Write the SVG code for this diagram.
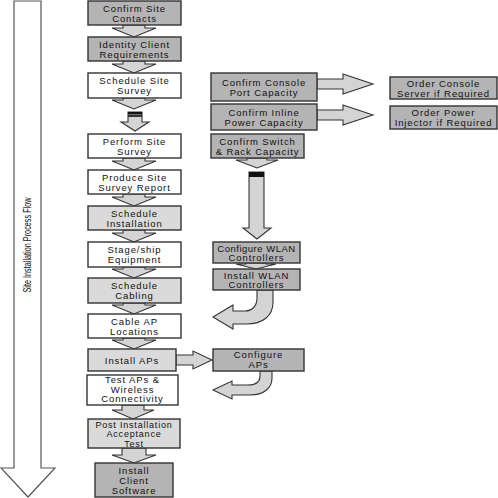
<svg xmlns="http://www.w3.org/2000/svg" width="498" height="498" viewBox="0 0 498 498">
<style>
.b{stroke:#333;stroke-width:1.4}
.dk{fill:#b4b4b4}
.lt{fill:#dadada}
.wh{fill:#ffffff}
.t{font-family:"Liberation Sans",Arial,sans-serif;font-size:9.5px;letter-spacing:0.9px;fill:#111;text-anchor:middle}
.s{font-size:9px;letter-spacing:0.8px}
.ar{fill:#d4d4d4;stroke:#333;stroke-width:1.1;stroke-linejoin:miter}
</style>
<rect width="498" height="498" fill="#ffffff"/>
<g id="flow-arrow">
<polygon points="14,1 41,1 41,468 55,468 28,497 1,468 14,468" fill="#ffffff" stroke="#555" stroke-width="1.2"/>
<text x="0" y="0" transform="translate(31,245) rotate(-90)" font-family="'Liberation Sans',Arial,sans-serif" font-size="10" text-anchor="middle" textLength="95" lengthAdjust="spacingAndGlyphs" fill="#111">Site Installation Process Flow</text>
</g>
<g id="connectors">
<polygon class="ar" points="123,25 123,28 112,28 134,37 156,28 145,28 145,25"/>
<polygon class="ar" points="123,61 123,64 112,64 134,73 156,64 145,64 145,61"/>
<polygon class="ar" points="123,98 123,100 112,100 134,109 156,100 145,100 145,98"/>
<polygon class="ar" points="128,112 142,112 142,122 149,122 135,131 121,122 128,122" fill="#e4e4e4"/>
<rect x="128" y="112" width="14" height="2.5" fill="#111"/>
<rect x="128" y="115" width="14" height="2" fill="#333"/>
<polygon class="ar" points="123,158 123,161 112,161 134,170 156,161 145,161 145,158"/>
<polygon class="ar" points="123,194 123,197 112,197 134,206 156,197 145,197 145,194"/>
<polygon class="ar" points="123,230 123,233 112,233 134,242 156,233 145,233 145,230"/>
<polygon class="ar" points="123,267 123,269 112,269 134,278 156,269 145,269 145,267"/>
<polygon class="ar" points="123,303 123,305 112,305 134,314 156,305 145,305 145,303"/>
<polygon class="ar" points="123,338 123,340 112,340 134,349 156,340 145,340 145,338"/>
<polygon class="ar" points="122,405 122,410 112,410 133,419 154,410 144,410 144,405"/>
<polygon class="ar" points="122,448 122,455 112,455 134,463 156,455 146,455 146,448"/>
<polygon class="ar" points="176,355 193,355 193,351 212,360 193,369 193,365 176,365"/>
<polygon class="ar" points="317,79 343,79 343,74 373,84 343,94 343,89 317,89"/>
<polygon class="ar" points="317,110 343,110 343,105 373,115 343,125 343,120 317,120"/>
<polygon class="ar" points="247,158 247,160 236,160 257,168 278,160 267,160 267,158"/>
<polygon class="ar" points="249,172 264,172 264,228 271,228 257,239 243,228 249,228"/>
<rect x="249" y="172" width="15" height="5" fill="#111"/>
<polygon class="ar" points="246,263 246,264 236,264 256,269 276,264 266,264 266,263"/>
<path class="ar" d="M257,290 L257,298 C257,306 252,311 245,311 L233,311 L233,305 L213,317 L233,329 L233,324 L246,324 C263,324 273,316 273,302 L273,290 Z"/>
<path class="ar" d="M260,371 L260,376 C260,382 256,385 248,385 L232,385 L232,381 L213,390 L232,399 L232,395 L250,395 C264,395 272,388 272,378 L272,371 Z"/>
</g>
<g id="n1"><rect class="b dk" x="88" y="1" width="93" height="24"/><text class="t" x="134.5" y="12">Confirm Site</text><text class="t" x="134.5" y="22">Contacts</text></g>
<g id="n2"><rect class="b dk" x="88" y="37" width="93" height="24"/><text class="t" x="134.5" y="48">Identity Client</text><text class="t" x="134.5" y="58">Requirements</text></g>
<g id="n3"><rect class="b wh" x="88" y="73" width="93" height="25"/><text class="t" x="134.5" y="84">Schedule Site</text><text class="t" x="134.5" y="94">Survey</text></g>
<g id="n4"><rect class="b wh" x="88" y="134" width="93" height="24"/><text class="t" x="134.5" y="145">Perform Site</text><text class="t" x="134.5" y="155">Survey</text></g>
<g id="n5"><rect class="b wh" x="88" y="170" width="93" height="24"/><text class="t" x="134.5" y="181">Produce Site</text><text class="t" x="134.5" y="191">Survey Report</text></g>
<g id="n6"><rect class="b lt" x="88" y="206" width="93" height="24"/><text class="t" x="134.5" y="217">Schedule</text><text class="t" x="134.5" y="227">Installation</text></g>
<g id="n7"><rect class="b wh" x="88" y="242" width="93" height="25"/><text class="t" x="134.5" y="253">Stage/ship</text><text class="t" x="134.5" y="263">Equipment</text></g>
<g id="n8"><rect class="b lt" x="88" y="278" width="93" height="25"/><text class="t" x="134.5" y="289">Schedule</text><text class="t" x="134.5" y="299">Cabling</text></g>
<g id="n9"><rect class="b wh" x="88" y="314" width="93" height="24"/><text class="t" x="134.5" y="325">Cable AP</text><text class="t" x="134.5" y="335">Locations</text></g>
<g id="n10"><rect class="b lt" x="88" y="349" width="88" height="22"/><text class="t" x="132" y="363.5">Install APs</text></g>
<g id="n11"><rect class="b wh" x="87" y="375" width="91" height="30"/><text class="t" x="132.5" y="383">Test APs &amp;</text><text class="t" x="132.5" y="392.5">Wireless</text><text class="t" x="132.5" y="402">Connectivity</text></g>
<g id="n12"><rect class="b lt" x="88" y="419" width="92" height="29"/><text class="t s" x="134" y="427.5">Post Installation</text><text class="t s" x="134" y="437">Acceptance</text><text class="t s" x="134" y="446.5">Test</text></g>
<g id="n13"><rect class="b dk" x="95" y="463" width="78" height="34"/><text class="t" x="134" y="474">Install</text><text class="t" x="134" y="484">Client</text><text class="t" x="134" y="494">Software</text></g>
<g id="n14"><rect class="b dk" x="211" y="73" width="106" height="28"/><text class="t" x="264" y="86">Confirm Console</text><text class="t" x="264" y="96">Port Capacity</text></g>
<g id="n15"><rect class="b dk" x="390" y="77" width="107" height="22"/><text class="t" x="443.5" y="87">Order Console</text><text class="t" x="443.5" y="96.5">Server if Required</text></g>
<g id="n16"><rect class="b dk" x="211" y="104" width="106" height="26"/><text class="t" x="264" y="116">Confirm Inline</text><text class="t" x="264" y="126">Power Capacity</text></g>
<g id="n17"><rect class="b dk" x="390" y="106" width="107" height="23"/><text class="t" x="443.5" y="116">Order Power</text><text class="t" x="443.5" y="126">Injector if Required</text></g>
<g id="n18"><rect class="b dk" x="211" y="134" width="93" height="24"/><text class="t" x="257.5" y="144.5">Confirm Switch</text><text class="t" x="257.5" y="154.5">&amp; Rack Capacity</text></g>
<g id="n19"><rect class="b dk" x="213" y="242" width="87" height="21"/><text class="t" x="256.5" y="251.5" style="letter-spacing:0.5px">Configure WLAN</text><text class="t" x="256.5" y="261">Controllers</text></g>
<g id="n20"><rect class="b dk" x="213" y="269" width="87" height="21"/><text class="t" x="256.5" y="278.5">Install WLAN</text><text class="t" x="256.5" y="288">Controllers</text></g>
<g id="n21"><rect class="b dk" x="213" y="349" width="91" height="22"/><text class="t" x="258.5" y="358">Configure</text><text class="t" x="258.5" y="367.5">APs</text></g>
</svg>
